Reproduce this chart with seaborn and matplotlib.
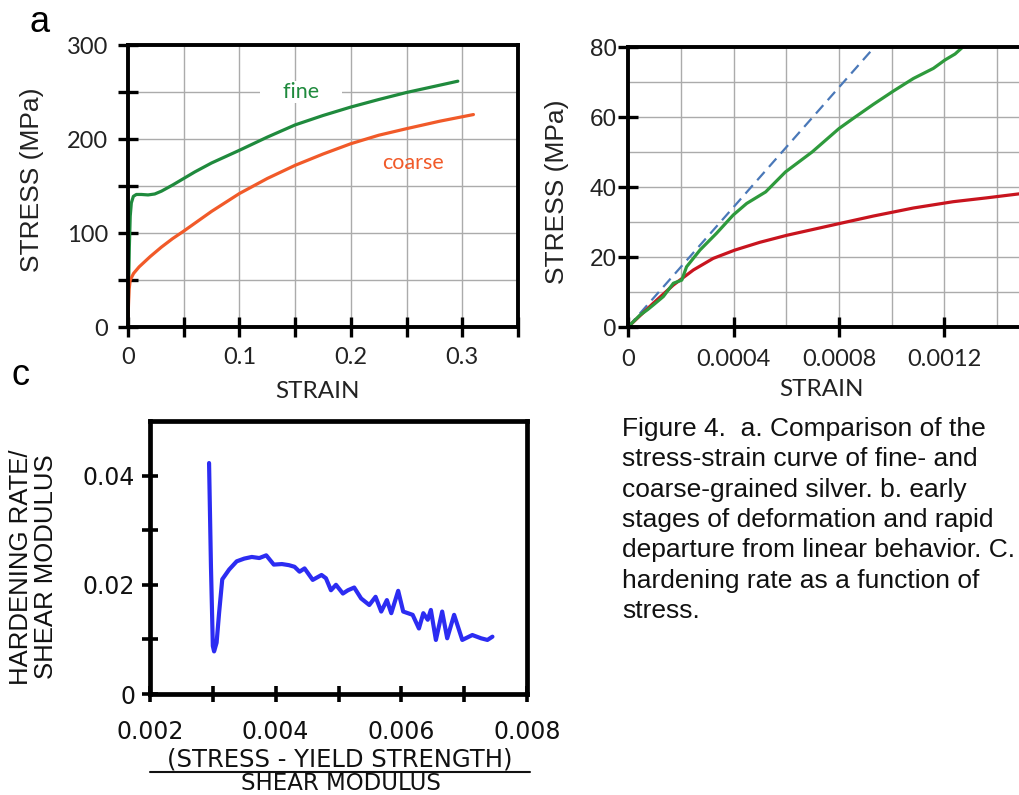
import matplotlib
matplotlib.use("Agg")
import matplotlib.pyplot as plt
import pandas as pd
import seaborn as sns
from matplotlib.lines import Line2D

# ---------------- (a) full stress-strain curves ----------------
fine_strain = [0.0, 0.0005, 0.0012, 0.002, 0.003, 0.0048, 0.0075, 0.012, 0.018,
               0.024, 0.030, 0.040, 0.050, 0.060, 0.075, 0.100, 0.125, 0.150,
               0.175, 0.200, 0.225, 0.250, 0.275, 0.296]
fine_stress = [0.0, 40.0, 85.0, 118.0, 132.0, 139.0, 141.0, 141.0, 140.5,
               141.5, 144.5, 151.0, 158.0, 165.0, 174.5, 188.0, 202.0, 215.0,
               225.0, 234.0, 242.0, 249.5, 256.0, 261.5]
coarse_strain = [0.0, 0.0004, 0.001, 0.002, 0.005, 0.010, 0.020, 0.030, 0.040,
                 0.050, 0.075, 0.100, 0.125, 0.150, 0.175, 0.200, 0.225, 0.250,
                 0.280, 0.310]
coarse_stress = [0.0, 22.0, 40.0, 50.0, 57.0, 64.0, 75.0, 85.0, 94.0,
                 102.0, 123.0, 142.0, 158.0, 172.0, 184.0, 195.0, 204.0, 211.0,
                 219.0, 226.0]

# ---------------- (b) early stages of deformation ----------------
b_fine_strain = [0.0, 0.0000455, 0.000075, 0.000096, 0.000134, 0.000172, 0.000204,
                 0.000222, 0.000273, 0.000336, 0.000399, 0.00045, 0.000522,
                 0.000597, 0.000698, 0.0008, 0.000854, 0.00093, 0.001006,
                 0.001082, 0.001158, 0.001202, 0.00124, 0.001271, 0.00131]
b_fine_stress = [0.0, 3.4, 5.0, 6.3, 8.7, 12.5, 13.4,
                 17.2, 22.0, 26.8, 32.0, 35.3, 38.6,
                 44.3, 50.0, 56.7, 59.6, 63.6, 67.4,
                 71.0, 73.9, 76.3, 78.0, 80.1, 82.5]
b_coarse_strain = [0.0, 0.000096, 0.000172, 0.000248, 0.000323, 0.000406, 0.0005,
                   0.000602, 0.000703, 0.000804, 0.00093, 0.001082, 0.001233,
                   0.00136, 0.0015]
b_coarse_stress = [0.0, 6.8, 12.0, 16.3, 19.6, 22.0, 24.2,
                   26.2, 27.9, 29.6, 31.7, 34.0, 35.8,
                   36.9, 38.2]
elastic_strain = [0.0, 0.00100]
elastic_stress = [0.0, 85.6]

# ---------------- (c) hardening rate ----------------
hard_x = [0.00294, 0.00297, 0.00300, 0.00302, 0.00306, 0.00310, 0.00315, 0.00326,
          0.00338, 0.00350, 0.00362, 0.00374, 0.00385, 0.00397, 0.00410, 0.00421,
          0.00430, 0.00438, 0.00446, 0.00459, 0.00473, 0.00480, 0.00488, 0.00496,
          0.00507, 0.00515, 0.00525, 0.00536, 0.00549, 0.00559, 0.00568, 0.00577,
          0.00584, 0.00595, 0.00603, 0.00618, 0.00628, 0.00635, 0.00642, 0.00647,
          0.00655, 0.00665, 0.00673, 0.00684, 0.00697, 0.00713, 0.00727, 0.00737,
          0.00745]
hard_y = [0.0423, 0.0234, 0.0088, 0.0078, 0.0094, 0.0149, 0.0210, 0.0228,
          0.0243, 0.0248, 0.0251, 0.0249, 0.0254, 0.0237, 0.0238, 0.0236,
          0.0233, 0.0224, 0.0230, 0.0209, 0.0218, 0.0212, 0.0190, 0.0200,
          0.0184, 0.0190, 0.0195, 0.0175, 0.0163, 0.0178, 0.0151, 0.0172,
          0.0148, 0.0189, 0.0151, 0.0145, 0.0120, 0.0148, 0.0136, 0.0154,
          0.0099, 0.0151, 0.0102, 0.0145, 0.0099, 0.0108, 0.0102, 0.0099,
          0.0105]

a_xticks = [0, 0.05, 0.1, 0.15, 0.2, 0.25, 0.3, 0.35]
a_xlabels = ["0", "", "0.1", "", "0.2", "", "0.3", ""]
a_yticks = [0, 50, 100, 150, 200, 250, 300]
a_ylabels = ["0", "", "100", "", "200", "", "300"]
b_xticks = [0, 0.0004, 0.0008, 0.0012]
b_xlabels = ["0", "0.0004", "0.0008", "0.0012"]
b_yticks = [0, 20, 40, 60, 80]
b_ylabels = ["0", "20", "40", "60", "80"]
c_xticks = [0.002, 0.003, 0.004, 0.005, 0.006, 0.007, 0.008]
c_xlabels = ["0.002", "", "0.004", "", "0.006", "", "0.008"]
c_yticks = [0, 0.01, 0.02, 0.03, 0.04]
c_ylabels = ["0", "", "0.02", "", "0.04"]

caption = ["Figure 4.  a. Comparison of the",
           "stress-strain curve of fine- and",
           "coarse-grained silver. b. early",
           "stages of deformation and rapid",
           "departure from linear behavior. C.",
           "hardening rate as a function of",
           "stress."]

sns.set_theme(style="white")
plt.rcParams["font.family"] = ["Liberation Sans", "DejaVu Sans"]

W, H = 1020, 795
fig = plt.figure(figsize=(W / 100, H / 100), dpi=100)


def box(l, t, r, b):
    return [l / W, 1 - b / H, (r - l) / W, (b - t) / H]


def px(x, y):
    return x / W, 1 - y / H


GRID = "#ababab"
TICKFONT = dict(family=["Lato", "DejaVu Sans"], size=17)


def style_spines(ax, lw):
    for s in ax.spines.values():
        s.set_visible(True)
        s.set_color("black")
        s.set_linewidth(lw)


# ================= panel a =================
axa = fig.add_axes(box(128, 45, 518, 327))
sns.lineplot(x=fine_strain, y=fine_stress, ax=axa, color="#1f8a3d", lw=2.3,
             sort=False, estimator=None)
sns.lineplot(x=coarse_strain, y=coarse_stress, ax=axa, color="#f15a29", lw=2.3,
             sort=False, estimator=None)
axa.set_xlim(0, 0.35)
axa.set_ylim(0, 300)
axa.set_xticks(a_xticks)
axa.set_xticklabels(a_xlabels, **TICKFONT)
axa.set_yticks(a_yticks)
axa.set_yticklabels(a_ylabels, **TICKFONT)
axa.grid(True, color=GRID, lw=1.0)
axa.set_axisbelow(True)
style_spines(axa, 2.8)
axa.tick_params(axis="both", which="major", direction="inout", length=14, width=2.4,
                color="black", pad=7.5, labelcolor="#222222",
                bottom=True, left=True, top=False, right=False)
axa.text(0.155, 250, "    fine    ", color="#1f8a3d", ha="center", va="center",
         family=["Lato", "DejaVu Sans"], size=15.5,
         bbox=dict(boxstyle="square,pad=0.05", fc="white", ec="none"))
axa.text(0.256, 174, "coarse", color="#f15a29", ha="center", va="center",
         family=["Lato", "DejaVu Sans"], size=15.5)
axa.set_xlabel("STRAIN", family=["Lato", "DejaVu Sans"], size=17.5, color="#222222",
               ha="center", va="center")
axa.xaxis.set_label_coords((317 - 128) / 390, (327 - 392) / 282)
axa.set_ylabel("STRESS (MPa)", size=19, color="#222222", ha="center", va="center")
axa.yaxis.set_label_coords((32 - 128) / 390, (327 - 180) / 282)

# ================= panel b =================
axb = fig.add_axes(box(628, 47, 1050, 327))
sns.lineplot(x=elastic_strain, y=elastic_stress, ax=axb, color="#4a78b8", lw=1.6,
             linestyle=(0, (5, 3)), sort=False, estimator=None)
sns.lineplot(x=b_coarse_strain, y=b_coarse_stress, ax=axb, color="#c8141e", lw=2.3,
             sort=False, estimator=None)
sns.lineplot(x=b_fine_strain, y=b_fine_stress, ax=axb, color="#2e9a3c", lw=2.3,
             sort=False, estimator=None)
axb.set_xlim(0, 0.0016)
axb.set_ylim(0, 80)
axb.set_xticks(b_xticks)
axb.set_xticklabels(b_xlabels, **TICKFONT)
axb.set_yticks(b_yticks)
axb.set_yticklabels(b_ylabels, size=17.5)
axb.set_xticks([0.0002 * i for i in range(9)], minor=True)
axb.set_yticks([10 * i for i in range(9)], minor=True)
axb.grid(True, which="both", color=GRID, lw=1.0)
axb.set_axisbelow(True)
style_spines(axb, 2.8)
axb.tick_params(axis="both", which="major", direction="inout", length=14, width=2.4,
                color="black", labelcolor="#222222",
                bottom=True, left=True, top=False, right=False)
axb.tick_params(axis="x", which="major", pad=9)
axb.tick_params(axis="y", which="major", pad=1)
axb.tick_params(axis="both", which="minor", length=0)
axb.set_xlabel("STRAIN", family=["Lato", "DejaVu Sans"], size=17.5, color="#222222",
               ha="center", va="center")
axb.xaxis.set_label_coords((821 - 628) / 422, (327 - 390) / 280)
axb.set_ylabel("STRESS (MPa)", size=19, color="#222222", ha="center", va="center")
axb.yaxis.set_label_coords((557 - 628) / 422, (327 - 192) / 280)

# ================= panel c =================
axc = fig.add_axes(box(150, 421, 527, 694))
sns.lineplot(x=hard_x, y=hard_y, ax=axc, color="#2c2cf2", lw=3.0,
             sort=False, estimator=None)
axc.set_xlim(0.002, 0.008)
axc.set_ylim(0, 0.05)
axc.set_xticks(c_xticks)
axc.set_xticklabels(c_xlabels, family="DejaVu Sans", size=17)
axc.set_yticks(c_yticks)
axc.set_yticklabels(c_ylabels, family="DejaVu Sans", size=17)
axc.grid(False)
style_spines(axc, 3.4)
axc.tick_params(axis="both", which="major", direction="inout", length=11.5, width=2.6,
                color="black", labelcolor="#111111",
                bottom=True, left=True, top=False, right=False)
axc.tick_params(axis="x", pad=13)
axc.tick_params(axis="y", pad=5)

fig.text(*px(21, 567), "HARDENING RATE/", rotation=90, ha="center", va="center",
         size=18.5, color="#111111")
fig.text(*px(46, 567), "SHEAR MODULUS", rotation=90, ha="center", va="center",
         size=18.5, color="#111111")
fig.text(*px(340, 759), "(STRESS - YIELD STRENGTH)", ha="center", va="center",
         family="DejaVu Sans", size=17.5, color="#111111")
fig.add_artist(Line2D([150 / W, 530 / W], [1 - 772 / H, 1 - 772 / H],
                      transform=fig.transFigure, color="#111111", lw=1.5))
fig.text(*px(341, 783), "SHEAR MODULUS", ha="center", va="center",
         family="DejaVu Sans", size=16.5, color="#111111")

# ================= panel letters and caption =================
fig.text(*px(30, 32), "a", size=26, color="black", ha="left", va="baseline")
fig.text(*px(12, 385), "c", size=26, color="black", ha="left", va="baseline")

for i, line in enumerate(caption):
    fig.text(*px(622, 435.7 + 30.4 * i), line, size=19, color="#111111",
             ha="left", va="baseline")

fig.savefig("out.png", dpi=100)
